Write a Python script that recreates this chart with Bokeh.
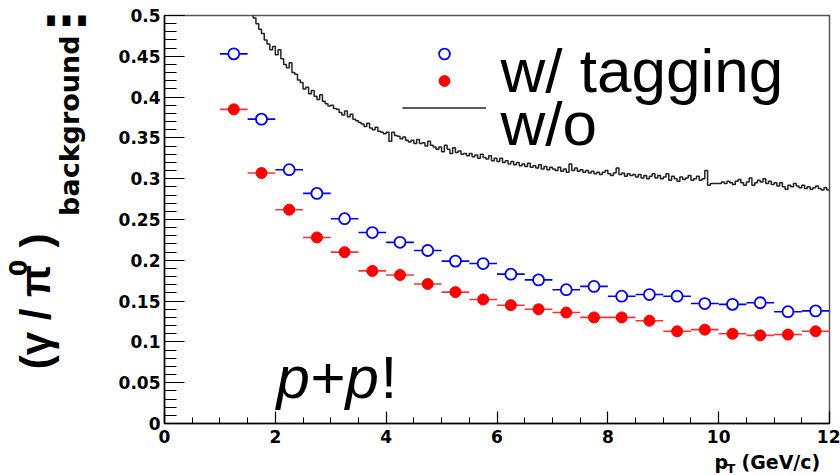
import math
from bokeh.plotting import figure
from bokeh.layouts import row, column
from bokeh.models import (Range1d, FixedTicker, CustomJSTickFormatter, Label,
                          Legend, LegendItem)
from bokeh.embed import file_html
from bokeh.resources import INLINE

# ---------------- data ----------------
pt_centers = [1.25, 1.75, 2.25, 2.75, 3.25, 3.75, 4.25, 4.75, 5.25, 5.75, 6.25,
              6.75, 7.25, 7.75, 8.25, 8.75, 9.25, 9.75, 10.25, 10.75, 11.25, 11.75]
pt_bin_width = 0.5

with_tagging_open = [0.453, 0.373, 0.311, 0.282, 0.251, 0.234, 0.222, 0.212, 0.199,
                     0.196, 0.183, 0.176, 0.164, 0.168, 0.156, 0.158, 0.156, 0.147,
                     0.146, 0.148, 0.137, 0.138]
with_tagging_full = [0.385, 0.307, 0.262, 0.228, 0.210, 0.187, 0.182, 0.171, 0.161,
                     0.152, 0.145, 0.140, 0.136, 0.130, 0.130, 0.126, 0.113, 0.115,
                     0.110, 0.108, 0.109, 0.113]

# histogram "w/o": fine bins of 0.05 GeV/c starting at 1.5
hist_start = 1.5
hist_bin = 0.05
without_tagging = [
    0.530, 0.502, 0.497, 0.490, 0.483, 0.478, 0.470, 0.465, 0.458, 0.462,
    0.452, 0.458, 0.447, 0.440, 0.436, 0.442, 0.430, 0.428, 0.421, 0.418,
    0.410, 0.412, 0.404, 0.408, 0.401, 0.397, 0.403, 0.395, 0.392, 0.389,
    0.390, 0.386, 0.385, 0.381, 0.378, 0.383, 0.376, 0.379, 0.373, 0.371,
    0.369, 0.367, 0.364, 0.368, 0.362, 0.360, 0.363, 0.358, 0.357, 0.355,
    0.357, 0.346, 0.357, 0.353, 0.352, 0.349, 0.351, 0.347, 0.345, 0.347,
    0.343, 0.348, 0.343, 0.344, 0.340, 0.346, 0.341, 0.339, 0.336, 0.339,
    0.333, 0.341, 0.336, 0.331, 0.338, 0.332, 0.334, 0.330, 0.331, 0.328,
    0.331, 0.327, 0.329, 0.325, 0.330, 0.326, 0.324, 0.328, 0.322, 0.325,
    0.321, 0.325, 0.320, 0.322, 0.318, 0.321, 0.317, 0.320, 0.316, 0.318,
    0.315, 0.319, 0.314, 0.316, 0.313, 0.317, 0.312, 0.315, 0.311, 0.314,
    0.312, 0.310, 0.314, 0.309, 0.312, 0.308, 0.318, 0.310, 0.313, 0.309,
    0.311, 0.308, 0.310, 0.307, 0.309, 0.306, 0.308, 0.305, 0.308, 0.310,
    0.306, 0.304, 0.307, 0.313, 0.305, 0.307, 0.303, 0.306, 0.304, 0.305,
    0.302, 0.305, 0.301, 0.304, 0.300, 0.303, 0.306, 0.301, 0.304, 0.300,
    0.302, 0.306, 0.298, 0.303, 0.300, 0.297, 0.302, 0.299, 0.301, 0.304,
    0.298, 0.300, 0.303, 0.298, 0.300, 0.310, 0.292, 0.294, 0.294, 0.294,
    0.294, 0.296, 0.294, 0.297, 0.295, 0.293, 0.297, 0.299, 0.295, 0.292,
    0.296, 0.301, 0.292, 0.295, 0.298, 0.296, 0.300, 0.294, 0.297, 0.293,
    0.295, 0.291, 0.295, 0.290, 0.287, 0.292, 0.290, 0.294, 0.291, 0.289,
    0.292, 0.288, 0.290, 0.287, 0.289, 0.291, 0.288, 0.286, 0.289, 0.286,
]

x_major = [0, 2, 4, 6, 8, 10, 12]
y_major = [0, 0.05, 0.1, 0.15, 0.2, 0.25, 0.3, 0.35, 0.4, 0.45, 0.5]

# ---------------- page geometry ----------------
W, H = 840, 475
LW = 112          # width of the strip holding the y title
BH = 23           # height of the strip holding the x title
L, R, T, B = 164, 829, 15, 423   # frame edges in page pixels
MAIN_W, MAIN_H = W - LW, H - BH

BASE_K = 0.41     # empirical correction for alphabetic baseline placement

tick_font = "DejaVu Sans"
big_font = "Liberation Sans"


def blank_fig(w, h, xr, yr):
    f = figure(width=w, height=h, output_backend="svg", toolbar_location=None,
               x_range=Range1d(*xr), y_range=Range1d(*yr),
               x_axis_type=None, y_axis_type=None,
               min_border=0, min_border_left=0, min_border_right=0,
               min_border_top=0, min_border_bottom=0)
    f.grid.visible = False
    f.outline_line_color = None
    f.background_fill_color = "white"
    f.border_fill_color = "white"
    return f


def put(fig, txt, x, y, size, font=big_font, style="normal", angle=0.0,
        color="black"):
    # x, y are page pixels of the text baseline start
    if angle == 0.0:
        y = y - BASE_K * size
    else:
        x = x - BASE_K * size
    fig.add_layout(Label(x=x, y=y, text=txt, text_font=font,
                         text_font_size=f"{size}px", text_font_style=style,
                         text_color=color, angle=angle, text_align="left",
                         text_baseline="alphabetic"))


# ---------------- main figure ----------------
p = figure(width=MAIN_W, height=MAIN_H, output_backend="svg",
           toolbar_location=None,
           x_range=Range1d(0, 12), y_range=Range1d(0, 0.5),
           min_border_left=L - LW, min_border_right=W - R,
           min_border_top=T, min_border_bottom=MAIN_H - B)
p.background_fill_color = "white"
p.border_fill_color = "white"
p.grid.visible = False
p.outline_line_color = "#555555"
p.outline_line_width = 1.5


def dx(px):
    return (px - L) / (R - L) * 12.0


def dy(py):
    return (B - py) / (B - T) * 0.5


p.xaxis.ticker = FixedTicker(ticks=x_major,
                             minor_ticks=[i * 0.5 for i in range(25)])
p.yaxis.ticker = FixedTicker(ticks=y_major,
                             minor_ticks=[i * 0.01 for i in range(51)])
fmt = CustomJSTickFormatter(code="return String(parseFloat(tick.toFixed(3)));")
p.xaxis.formatter = fmt
p.yaxis.formatter = fmt
for ax in (p.xaxis, p.yaxis):
    ax.axis_line_color = "black"
    ax.axis_line_width = 1.5
    ax.major_tick_line_color = "black"
    ax.minor_tick_line_color = "black"
    ax.major_tick_line_width = 1.2
    ax.minor_tick_line_width = 1.0
    ax.major_tick_out = 0
    ax.minor_tick_out = 0
    ax.major_label_text_font = tick_font
    ax.major_label_text_font_style = "bold"
    ax.major_label_text_font_size = "17px"
    ax.major_label_text_color = "black"
p.xaxis.major_tick_in = 12
p.xaxis.minor_tick_in = 6
p.xaxis.major_label_standoff = 6
p.yaxis.major_tick_in = 20
p.yaxis.minor_tick_in = 12
p.yaxis.major_label_standoff = 4

# histogram (w/o)
edges = [hist_start + i * hist_bin for i in range(len(without_tagging) + 1)]
hist_vals = without_tagging + [without_tagging[-1]]
r_hist = p.step(x=edges, y=hist_vals, mode="after", line_color="#222222",
                line_width=1.5)

# points with x error bars
half = pt_bin_width / 2
x_lo = [c - half for c in pt_centers]
x_hi = [c + half for c in pt_centers]
p.segment(x0=x_lo, y0=with_tagging_open, x1=x_hi, y1=with_tagging_open,
          line_color="blue", line_width=1.6)
p.segment(x0=x_lo, y0=with_tagging_full, x1=x_hi, y1=with_tagging_full,
          line_color="#ff3030", line_width=1.6)
r_open = p.scatter(x=pt_centers, y=with_tagging_open, marker="circle", size=11,
                   fill_color="white", line_color="blue", line_width=1.8)
r_full = p.scatter(x=pt_centers, y=with_tagging_full, marker="circle", size=11,
                   fill_color="red", line_color="red")

# legend keys
legend = Legend(items=[LegendItem(label=" ", renderers=[r_open]),
                       LegendItem(label=" ", renderers=[r_full]),
                       LegendItem(label=" ", renderers=[r_hist])],
                location=(402 - L, B - 121), orientation="vertical",
                glyph_width=84, glyph_height=27, label_height=27,
                label_width=0, label_standoff=0, padding=0, spacing=0,
                margin=0, border_line_color=None, background_fill_alpha=0,
                label_text_font_size="1px")
p.add_layout(legend, "center")


def put_main(txt, px, py, size, style="normal"):
    y = py - BASE_K * size
    p.add_layout(Label(x=dx(px), y=dy(y), text=txt, text_font=big_font,
                       text_font_size=f"{size}px", text_font_style=style,
                       text_color="black", text_align="left",
                       text_baseline="alphabetic"))


put_main("w/ tagging", 500, 95, 62)
put_main("w/o", 500, 148, 62)
put_main("p", 276, 402, 60, style="italic")
put_main("+", 310, 402, 60)
put_main("p", 345, 402, 60, style="italic")
put_main("!", 380, 402, 60)

# ---------------- y title strip (page pixel coordinates) ----------------
fl = blank_fig(LW, MAIN_H, (0, LW), (MAIN_H, 0))
rot = math.pi / 2
put(fl, "m", 43, 12, 44, font=tick_font, style="bold")
put(fl, "(\u03b3 / \u03c0", 52, 392, 42, font=big_font, style="bold", angle=rot)
put(fl, "0", 27, 289, 24, font=tick_font, style="bold", angle=rot)
put(fl, ")", 52, 257, 42, font=big_font, style="bold", angle=rot)
put(fl, "background", 80, 222, 27, font=tick_font, style="bold", angle=rot)

# ---------------- x title strip (page pixel coordinates) ----------------
fb = blank_fig(W, BH, (0, W), (H, MAIN_H))
put(fb, "p", 714, 469, 19, font=tick_font, style="bold")
put(fb, "T", 726, 473, 13, font=tick_font, style="bold")
put(fb, "(GeV/c)", 741, 469, 19, font=tick_font, style="bold")

page = column(row(fl, p, spacing=0), fb, spacing=0)
open("out.html", "w").write(file_html(page, INLINE))
